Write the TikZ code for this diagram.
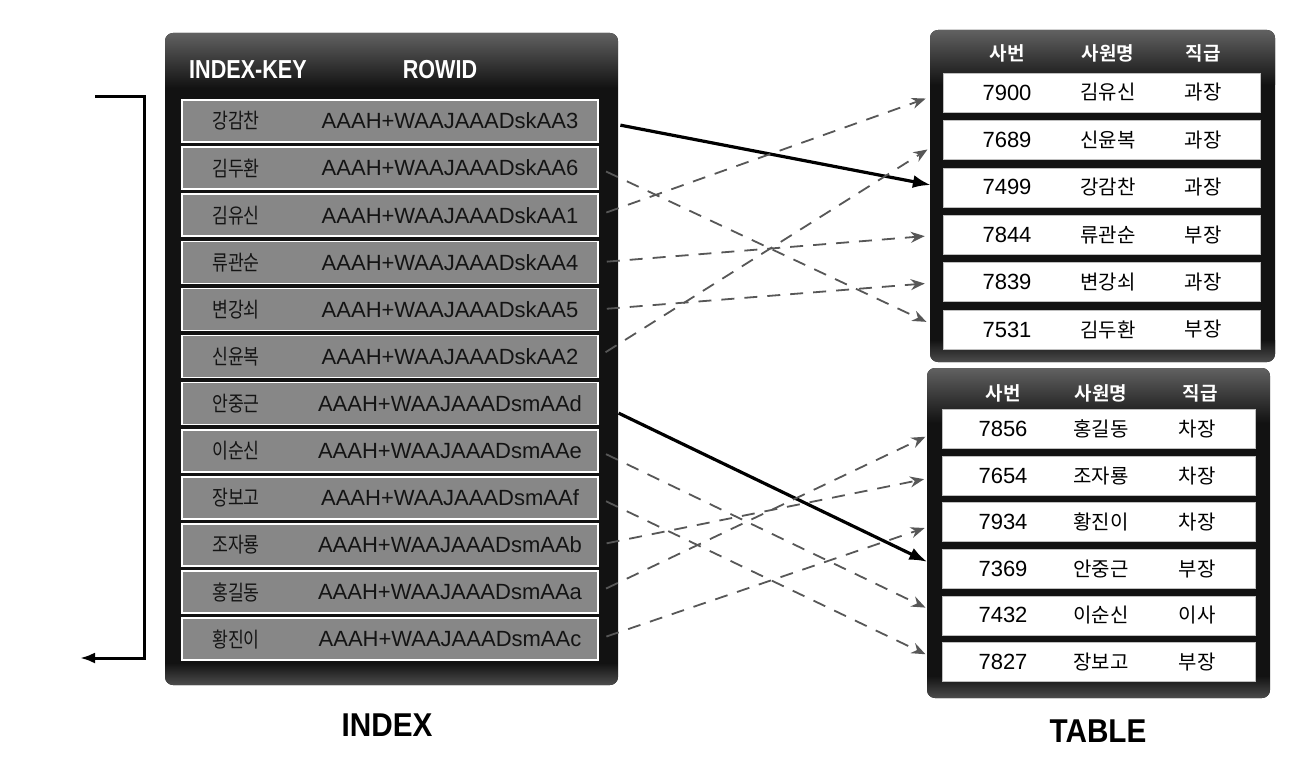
\documentclass[tikz,border=0pt]{standalone}
\usepackage{fontspec}
\setmainfont{Liberation Sans}
\newfontfamily\kr{Noto Sans CJK KR}[BoldFont={Noto Sans CJK KR Bold}]
\usetikzlibrary{arrows.meta}
\newcommand{\fsz}[1]{\fontsize{#1bp}{#1bp}\selectfont}
\newcommand{\darkpanel}[4]{%
  \fill[black!93, rounded corners=8bp] (#1,#2) rectangle (#3,#4);
  \begin{scope}
    \clip[rounded corners=8bp] (#1,#2) rectangle (#3,#4);
    \shade[top color=black!62, bottom color=black!93] (#1,#2) rectangle (#3,#2+55);
    \shade[top color=black!93, bottom color=black!70] (#1,#4-22) rectangle (#3,#4);
  \end{scope}}
\begin{document}
\begin{tikzpicture}[x=1bp,y=-1bp,
  idxrow/.style={draw=white, line width=1.6bp, fill=black!47, minimum width=416bp, minimum height=42bp, inner sep=0pt},
  idxkey/.style={font=\kr\fsz{21}, text=black!92, inner sep=0pt, xscale=0.82},
  idxrid/.style={font=\fsz{22}, text=black!92, inner sep=0pt},
  idxhead/.style={font=\bfseries\fsz{26}, text=white, inner sep=0pt, xscale=0.83},
  tabrow/.style={fill=white, draw=black!25, line width=0.6bp, minimum height=39bp, inner sep=0pt},
  tabnum/.style={font=\fsz{22}, text=black, inner sep=0pt},
  tabkr/.style={font=\kr\fsz{20}, text=black, inner sep=0pt},
  tabhead/.style={font=\kr\bfseries\fsz{19}, text=white, inner sep=0pt},
  biglabel/.style={font=\bfseries\fsz{33}, text=black, inner sep=0pt, xscale=0.9},
  solidarrow/.style={black, line width=3.2bp, -{Latex[length=18bp,width=13bp]}},
  dasharrow/.style={black!66, line width=1.8bp, dash pattern=on 13bp off 10bp, -{Stealth[length=14bp,width=11bp]}},
  bracketline/.style={black, line width=3bp, -{Latex[length=15bp,width=11bp]}}
]
\useasboundingbox (0,0) rectangle (1292,770);
\fill[white] (0,0) rectangle (1292,770);

% ---------- INDEX ----------
\darkpanel{165}{33}{618}{685}
\node[idxhead] (hkey) at (248,70) {INDEX-KEY};
\node[idxhead] (hrid) at (440,70) {ROWID};
\foreach \k/\r [count=\i] in {강감찬/AAAH+WAAJAAADskAA3,김두환/AAAH+WAAJAAADskAA6,김유신/AAAH+WAAJAAADskAA1,류관순/AAAH+WAAJAAADskAA4,변강쇠/AAAH+WAAJAAADskAA5,신윤복/AAAH+WAAJAAADskAA2,안중근/AAAH+WAAJAAADsmAAd,이순신/AAAH+WAAJAAADsmAAe,장보고/AAAH+WAAJAAADsmAAf,조자룡/AAAH+WAAJAAADsmAAb,홍길동/AAAH+WAAJAAADsmAAa,황진이/AAAH+WAAJAAADsmAAc}{
  \node[idxrow] (i\i) at (390,{121+47.1*(\i-1)}) {};
  \node[idxkey] (k\i) at (236,{121+47.1*(\i-1)}) {\k};
  \node[idxrid] (r\i) at (450,{121+47.1*(\i-1)}) {\r};
}
\node[biglabel] (lindex) at (387,725) {INDEX};

% ---------- TABLE 1 ----------
\darkpanel{930}{30}{1275}{362}
\node[tabhead] (ha1) at (1007,53) {사번};
\node[tabhead] (ha2) at (1108,53) {사원명};
\node[tabhead] (ha3) at (1203,53) {직급};
\foreach \n/\m/\g [count=\i] in {7900/김유신/과장,7689/신윤복/과장,7499/강감찬/과장,7844/류관순/부장,7839/변강쇠/과장,7531/김두환/부장}{
  \node[tabrow, minimum width=317bp] (a\i) at (1101.5,{92.5+47.4*(\i-1)}) {};
  \node[tabnum] (an\i) at (1007,{92.5+47.4*(\i-1)}) {\n};
  \node[tabkr] (am\i) at (1108,{92.5+47.4*(\i-1)}) {\m};
  \node[tabkr] (ag\i) at (1203,{92.5+47.4*(\i-1)}) {\g};
}

% ---------- TABLE 2 ----------
\darkpanel{927}{368}{1270}{698}
\node[tabhead] (hb1) at (1003,393) {사번};
\node[tabhead] (hb2) at (1101,393) {사원명};
\node[tabhead] (hb3) at (1200,393) {직급};
\foreach \n/\m/\g [count=\i] in {7856/홍길동/차장,7654/조자룡/차장,7934/황진이/차장,7369/안중근/부장,7432/이순신/이사,7827/장보고/부장}{
  \node[tabrow, minimum width=313bp] (b\i) at (1098.5,{429+46.6*(\i-1)}) {};
  \node[tabnum] (bn\i) at (1003,{429+46.6*(\i-1)}) {\n};
  \node[tabkr] (bm\i) at (1101,{429+46.6*(\i-1)}) {\m};
  \node[tabkr] (bg\i) at (1197,{429+46.6*(\i-1)}) {\g};
}
\node[biglabel] (ltable) at (1098,731) {TABLE};

% ---------- connectors ----------
\draw[solidarrow, shorten <=22bp, shorten >=12bp] (i1.east) -- (a3.west);
\draw[solidarrow, shorten <=22bp, shorten >=16bp] (i7.east) -- (b4.west);
\foreach \s/\t in {i2/a6,i3/a1,i4/a4,i5/a5,i6/a2,i8/b5,i9/b6,i10/b2,i11/b1,i12/b3}{
  \draw[dasharrow, shorten <=8bp, shorten >=18bp] (\s.east) -- (\t.west);
}

% ---------- bracket ----------
\coordinate (bt1) at (95,97);
\coordinate (bt2) at (144,97);
\coordinate (bb2) at (144,658);
\coordinate (bb1) at (80,658);
\draw[bracketline] (bt1) -- (bt2) -- (bb2) -- (bb1);
\end{tikzpicture}
\end{document}
